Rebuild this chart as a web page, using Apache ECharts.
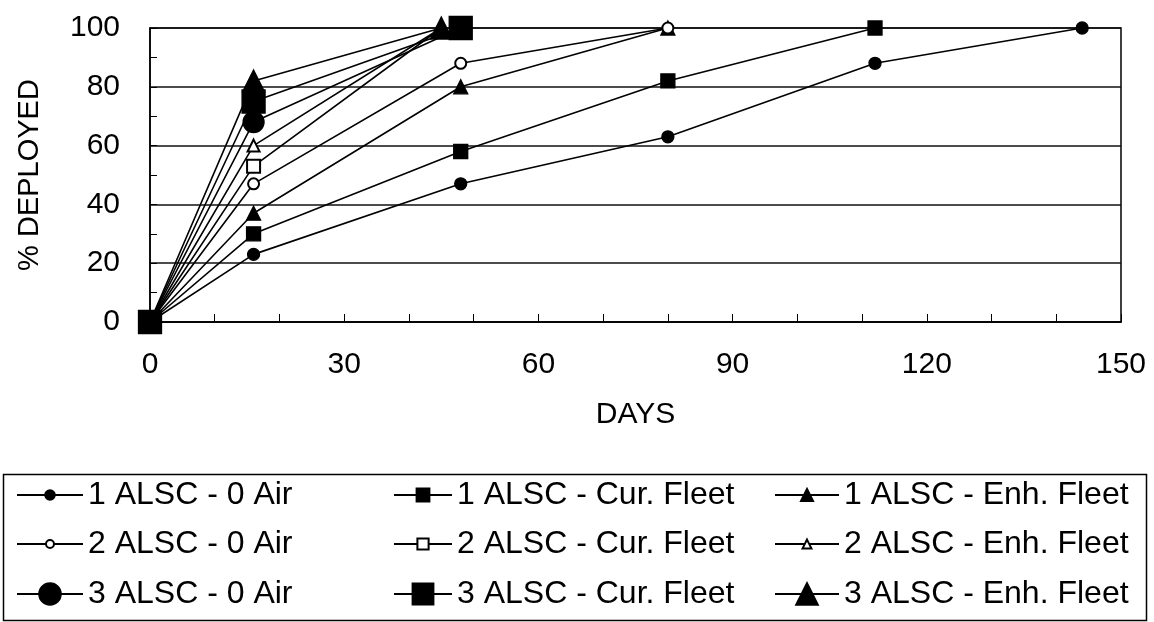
<!DOCTYPE html>
<html>
<head>
<meta charset="utf-8">
<title>% Deployed vs Days</title>
<script src="https://cdn.jsdelivr.net/npm/echarts@6/dist/echarts.min.js"></script>
<style>
    html, body { margin: 0; padding: 0; background: #fff; }
    #main { width: 1154px; height: 622px; }
</style>
</head>
<body>
<div id="main"></div>
<script>
// days on the x axis (the 2/3 ALSC runs finish at day 45 or 48)
var daysA = [0, 16, 48, 80, 112, 144];
var daysB = [0, 16, 45];
var daysC = [0, 16, 48];

// % deployed
var air1 = [0, 23, 47, 63, 88, 100];
var cur1 = [0, 30, 58, 82, 100];
var enh1 = [0, 37, 80, 100];
var air2 = [0, 47, 88, 100];
var cur2 = [0, 53, 100];
var enh2 = [0, 60, 100];
var air3 = [0, 68, 100];
var cur3 = [0, 75, 100];
var enh3 = [0, 82, 100];

var names = [
    '1 ALSC - 0 Air', '1 ALSC - Cur. Fleet', '1 ALSC - Enh. Fleet',
    '2 ALSC - 0 Air', '2 ALSC - Cur. Fleet', '2 ALSC - Enh. Fleet',
    '3 ALSC - 0 Air', '3 ALSC - Cur. Fleet', '3 ALSC - Enh. Fleet'
];
var xTicks = [0, 30, 60, 90, 120, 150];
var yTicks = [0, 20, 40, 60, 80, 100];

var FONT = '"Liberation Sans", Arial, sans-serif';

function pairs(xs, ys){
    return ys.map(function(v, i){ return [xs[i], v]; });
}

// one entry per series: x values, y values, symbol, plot size, legend size
// hideEnd: end marker sits under the big triangle in the original, not visible
var defs = [
    {x: daysA, y: air1, symbol: 'circle',        size: 12, leg: 12},
    {x: daysA, y: cur1, symbol: 'rect',          size: 14, leg: 16},
    {x: daysA, y: enh1, symbol: 'triangle',      size: 14, leg: 15},
    {x: daysA, y: air2, symbol: 'emptyCircle',   size: 11, leg: 10},
    {x: daysB, y: cur2, symbol: 'emptyRect',     size: 13, leg: 14, hideEnd: true},
    {x: daysB, y: enh2, symbol: 'emptyTriangle', size: 12, leg: 11, hideEnd: true},
    {x: daysC, y: air3, symbol: 'circle',        size: 21, leg: 27},
    {x: daysC, y: cur3, symbol: 'rect',          size: 23, leg: 26},
    {x: daysB, y: enh3, symbol: 'triangle',      size: 22, leg: 27}
];

var series = defs.map(function(d, i){
    var pts = pairs(d.x, d.y);
    if(d.hideEnd){
        var last = pts.length - 1;
        pts[last] = {value: pts[last], symbol: 'none'};
    }
    return {
        name: names[i],
        type: 'line',
        data: pts,
        symbol: d.symbol,
        symbolSize: d.size,
        clip: false,
        z: 2 + Math.floor(i / 3),
        lineStyle: {color: '#000', width: 1.6},
        itemStyle: {color: '#000', borderColor: '#000', borderWidth: 1.3},
        emphasis: {disabled: true},
        animation: false
    };
});

// legend: 3 columns x 3 rows, one legend per item so each can have its own marker size
var colLeft = [16, 393, 774];
var colWidth = [66, 58, 64];
var rowMid = [495, 544, 594];
var legends = defs.map(function(d, i){
    var row = Math.floor(i / 3), col = i % 3;
    return {
        data: [names[i]],
        left: colLeft[col],
        top: rowMid[row] - 16,
        padding: 0,
        itemWidth: colWidth[col],
        itemHeight: d.leg,
        selectedMode: false,
        textStyle: {color: '#000', fontSize: 32, fontFamily: FONT}
    };
});

var chart = echarts.init(document.getElementById('main'), null, {renderer: 'canvas'});
chart.setOption({
    backgroundColor: '#fff',
    animation: false,
    grid: {
        left: 150,
        top: 28,
        width: 971,
        height: 294,
        show: true,
        borderColor: '#000',
        borderWidth: 1.5
    },
    xAxis: {
        type: 'value',
        min: xTicks[0],
        max: xTicks[xTicks.length - 1],
        interval: 30,
        name: 'DAYS',
        nameLocation: 'middle',
        nameGap: 78,
        nameTextStyle: {color: '#000', fontSize: 30, fontFamily: FONT},
        axisLine: {lineStyle: {color: '#000', width: 1.5}},
        axisTick: {inside: true, length: 8, lineStyle: {color: '#000'}},
        minorTick: {show: true, splitNumber: 3, length: 8, lineStyle: {color: '#000'}},
        axisLabel: {color: '#000', fontSize: 30, fontFamily: FONT, margin: 28},
        splitLine: {show: false}
    },
    yAxis: {
        type: 'value',
        min: yTicks[0],
        max: yTicks[yTicks.length - 1],
        interval: 20,
        name: '% DEPLOYED',
        nameLocation: 'middle',
        nameGap: 106,
        nameTextStyle: {color: '#000', fontSize: 29, fontFamily: FONT},
        axisLine: {lineStyle: {color: '#000', width: 1.5}},
        axisTick: {inside: true, length: 7, lineStyle: {color: '#000'}},
        minorTick: {show: true, splitNumber: 2, length: 7, lineStyle: {color: '#000'}},
        axisLabel: {color: '#000', fontSize: 30, fontFamily: FONT, margin: 30},
        splitLine: {show: true, lineStyle: {color: '#111', width: 1.5}}
    },
    legend: legends,
    graphic: [{
        type: 'rect',
        shape: {x: 3.5, y: 474.5, width: 1143, height: 146},
        style: {fill: 'none', stroke: '#000', lineWidth: 1.5},
        silent: true
    }],
    series: series
});
</script>
</body>
</html>
